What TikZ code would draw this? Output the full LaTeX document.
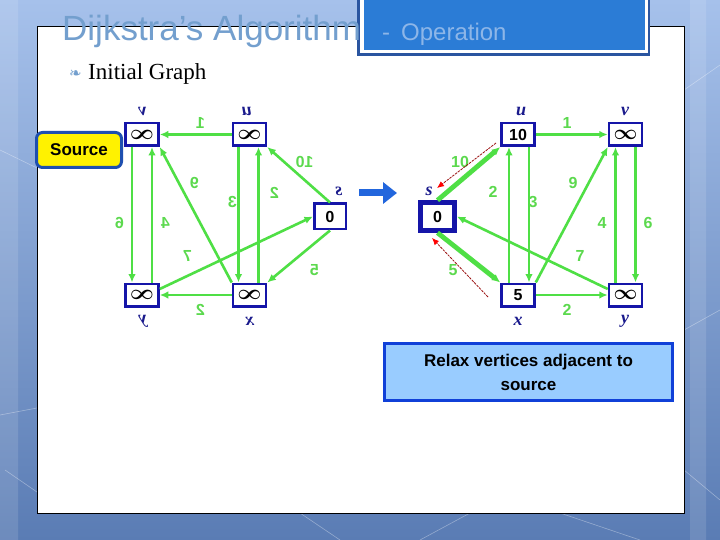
\documentclass[tikz,border=0pt]{standalone}
\usepackage{fontspec}
\setmainfont{Liberation Serif}
\setsansfont{Liberation Sans}
\newfontfamily\symfont{DejaVu Sans}
\usetikzlibrary{arrows.meta}
\definecolor{bgtop}{HTML}{A6C1EB}
\definecolor{bgbot}{HTML}{5A7CB4}
\definecolor{titleblue}{HTML}{739FCE}
\definecolor{opblue}{HTML}{8DB6E8}
\definecolor{hdfill}{HTML}{2B7CD6}
\definecolor{hddark}{HTML}{2A55A0}
\definecolor{vblue}{HTML}{1515A8}
\definecolor{lblue}{HTML}{1A1A8C}
\definecolor{egreen}{HTML}{4FDF45}
\definecolor{wgreen}{HTML}{5CD94E}
\definecolor{rdark}{HTML}{9A1010}
\definecolor{srcline}{HTML}{1E4FB0}
\definecolor{relfill}{HTML}{99CCFF}
\definecolor{relline}{HTML}{1040D8}
\definecolor{barrowc}{HTML}{2266DD}
\newcommand\infsym{{\fontsize{21}{21}\selectfont\boldmath$\infty$}}
\tikzset{
  vbox/.style={draw=vblue, line width=2.5pt, fill=white, minimum width=33pt,
    minimum height=22.5pt, inner sep=0pt, font=\sffamily\bfseries\fontsize{16}{16}\selectfont},
  sbox/.style={vbox, minimum width=31.5pt, minimum height=25.5pt},
  sboxhi/.style={vbox, line width=4.5pt, minimum width=34pt, minimum height=28pt},
  edge/.style={draw=egreen, line width=2.6pt, -{Latex[length=8.5pt,width=7.5pt]}},
  hedge/.style={edge, line width=4.8pt},
  wt/.style={text=wgreen, font=\sffamily\bfseries\fontsize{16}{16}\selectfont, inner sep=0pt},
  vlab/.style={text=lblue, font=\bfseries\itshape\fontsize{18}{18}\selectfont, inner sep=0pt},
  relaxline/.style={draw=rdark, line width=0.8pt, dash pattern=on 2.5pt off 1pt,
    -{Latex[length=7pt,width=6pt,color=red]}},
}
\begin{document}
\begin{tikzpicture}[x=1pt,y=-1pt]
	\useasboundingbox (0,0) rectangle (720,540);
	% slide background
	\shade[top color=bgtop, bottom color=bgbot] (0,0) rectangle (720,540);
	\fill[white, opacity=0.12] (0,0) rectangle (18,540) (690,0) rectangle (706,540);
	\draw[white, opacity=0.35, line width=0.6pt] (0,150) -- (37,168) (0,415) -- (37,408)
	(5,470) -- (37,492) (300,513) -- (340,540) (420,540) -- (470,513) (560,513) -- (640,540)
	(684,470) -- (720,500) (684,90) -- (720,65) (684,330) -- (720,310);
	% content panel
	\draw[black, line width=1pt, fill=white] (37,27) rectangle (684,513);
	% header box
	\fill[hddark] (357,-2) rectangle (650,56);
	\fill[white] (359.5,-2) rectangle (647.5,53.5);
	\fill[hdfill] (363.5,-2) rectangle (645,50);
	\node[anchor=base west, inner sep=0pt, text=titleblue, font=\sffamily\fontsize{35}{35}\selectfont]
	(title) at (62,41) {Dijkstra’s Algorithm};
	\node[anchor=base west, inner sep=0pt, text=opblue, font=\sffamily\fontsize{24}{24}\selectfont]
	(subtitle) at (382,41) {-\hspace{11pt}Operation};
	% bullet
	\node[anchor=base west, inner sep=0pt, text=titleblue, font=\symfont\fontsize{15}{15}\selectfont]
	(bul) at (69,79) {❧};
	\node[anchor=base west, inner sep=0pt, font=\fontsize{23}{23}\selectfont] (initial) at (88,80) {Initial Graph};
	% initial graph (mirrored)
	\begin{scope}[shift={(767.5,0)}, xscale=-1, transform shape]
	\node[sbox] (Ls) at (437.5,216.5) {0};
	\node[vbox] (Lu) at (518,134.5) {\infsym};
	\node[vbox] (Lv) at (625.5,134.5) {\infsym};
	\node[vbox] (Lx) at (518,295) {\infsym};
	\node[vbox] (Ly) at (625.5,295) {\infsym};
	\node[vlab] at (521,111) {u};
	\node[vlab] at (625,111) {v};
	\node[vlab] at (429,191) {s};
	\node[vlab] at (518,321) {x};
	\node[vlab] at (625,321) {y};
	\draw[edge] (Ls.north) -- (Lu.south west);
	\draw[edge] (Ls.south) -- (Lx.north west);
	\draw[edge] (Lu) -- (Lv);
	\draw[edge] ([xshift=11pt]Lu.south) -- ([xshift=11pt]Lx.north);
	\draw[edge] ([xshift=-9pt]Lx.north) -- ([xshift=-9pt]Lu.south);
	\draw[edge] (Lx.north east) -- (Lv.south west);
	\draw[edge] (Lx) -- (Ly);
	\draw[edge] ([xshift=10pt]Lv.south) -- ([xshift=10pt]Ly.north);
	\draw[edge] ([xshift=-10pt]Ly.north) -- ([xshift=-10pt]Lv.south);
	\draw[edge] ([yshift=6pt]Ly.west) -- (Ls.east);
	\node[wt] at (567,123) {1};
	\node[wt] at (463,162) {10};
	\node[wt] at (493,193) {2};
	\node[wt] at (535,202) {3};
	\node[wt] at (573,183) {9};
	\node[wt] at (602,223) {4};
	\node[wt] at (648,223) {6};
	\node[wt] at (580,256) {7};
	\node[wt] at (453,270) {5};
	\node[wt] at (567,310) {2};
	\end{scope}
	\node[draw=srcline, line width=3pt, fill=yellow, rounded corners=6pt, minimum width=85pt,
	minimum height=35pt, font=\sffamily\bfseries\fontsize{17}{17}\selectfont] (source) at (79,150) {Source};
	% step arrow
	\coordinate (b1) at (359,193);
	\coordinate (b2) at (397,193);
	\draw[barrowc, line width=7pt, -{Triangle[length=14pt,width=21pt]}] (b1) -- (b2);
	% after relaxing the source
	\begin{scope}
	\node[sboxhi] (Rs) at (437.5,216.5) {0};
	\node[vbox] (Ru) at (518,134.5) {10};
	\node[vbox] (Rv) at (625.5,134.5) {\infsym};
	\node[vbox] (Rx) at (518,295) {5};
	\node[vbox] (Ry) at (625.5,295) {\infsym};
	\node[vlab] at (521,111) {u};
	\node[vlab] at (625,111) {v};
	\node[vlab] at (429,191) {s};
	\node[vlab] at (518,321) {x};
	\node[vlab] at (625,321) {y};
	\draw[hedge] (Rs.north) -- (Ru.south west);
	\draw[hedge] (Rs.south) -- (Rx.north west);
	\draw[edge] (Ru) -- (Rv);
	\draw[edge] ([xshift=11pt]Ru.south) -- ([xshift=11pt]Rx.north);
	\draw[edge] ([xshift=-9pt]Rx.north) -- ([xshift=-9pt]Ru.south);
	\draw[edge] (Rx.north east) -- (Rv.south west);
	\draw[edge] (Rx) -- (Ry);
	\draw[edge] ([xshift=10pt]Rv.south) -- ([xshift=10pt]Ry.north);
	\draw[edge] ([xshift=-10pt]Ry.north) -- ([xshift=-10pt]Rv.south);
	\draw[edge] ([yshift=6pt]Ry.west) -- (Rs.east);
	\node[wt] at (567,123) {1};
	\node[wt] at (460,162) {10};
	\node[wt] at (493,192) {2};
	\node[wt] at (533,202) {3};
	\node[wt] at (573,183) {9};
	\node[wt] at (602,223) {4};
	\node[wt] at (648,223) {6};
	\node[wt] at (580,256) {7};
	\node[wt] at (453,270) {5};
	\node[wt] at (567,310) {2};
	% relaxation hints
	\coordinate (Rr1a) at (496,143);
	\coordinate (Rr1b) at (437,188);
	\coordinate (Rr2a) at (488,297);
	\coordinate (Rr2b) at (432,238);
	\draw[relaxline] (Rr1a) -- (Rr1b);
	\draw[relaxline] (Rr2a) -- (Rr2b);
	\end{scope}
	\node[draw=relline, line width=3pt, fill=relfill, minimum width=288pt, minimum height=57pt,
	align=center, font=\sffamily\bfseries\fontsize{17}{24}\selectfont] (relax) at (528.5,372)
	{Relax vertices adjacent to\\source};
\end{tikzpicture}
\end{document}
